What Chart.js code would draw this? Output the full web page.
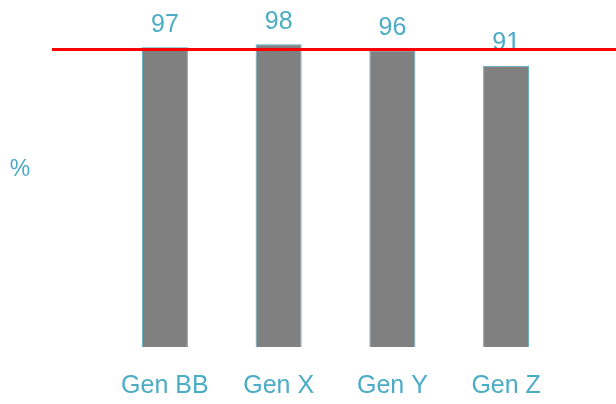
<!DOCTYPE html>
<html>
<head>
<meta charset="utf-8">
<script src="https://cdn.jsdelivr.net/npm/chart.js@4"></script>
<style>
  html, body { margin: 0; padding: 0; background: #fff; }
  #wrap { width: 616px; height: 404px; }
</style>
</head>
<body>
<div id="wrap"><canvas id="chart"></canvas></div>
<script>
const categories = ["Gen BB", "Gen X", "Gen Y", "Gen Z"];
const percentValues = [97, 98, 96, 91];
const targetValue = [96.3];
const axisTitle = "%";

const blue = "#4BACC6";
const font = "'Liberation Sans', Arial, sans-serif";

// value labels above bars, target line and the "%" title
const extras = {
    id: "extras",
    afterDatasetsDraw(chart) {
        const ctx = chart.ctx;
        const meta = chart.getDatasetMeta(0);
        ctx.save();
        ctx.fillStyle = blue;
        ctx.font = "25px " + font;
        ctx.textAlign = "center";
        ctx.textBaseline = "bottom";
        meta.data.forEach((bar, i) => {
            ctx.fillText(String(percentValues[i]), bar.x, bar.y - 10);
        });

        const y = chart.scales.y.getPixelForValue(targetValue[0]);
        ctx.strokeStyle = "#ff0000";
        ctx.lineWidth = 3;
        ctx.beginPath();
        ctx.moveTo(52, y);
        ctx.lineTo(chart.width, y);
        ctx.stroke();

        ctx.font = "23px " + font;
        ctx.textBaseline = "middle";
        ctx.fillText(axisTitle, 20, 170);
        ctx.restore();
    }
};

new Chart(document.getElementById("chart"), {
    type: "bar",
    data: {
        labels: categories,
        datasets: [{
            data: percentValues,
            backgroundColor: "#808080",
            borderColor: blue,
            borderWidth: 1,
            barPercentage: 0.405,
            categoryPercentage: 1
        }]
    },
    options: {
        responsive: true,
        maintainAspectRatio: false,
        animation: false,
        layout: {padding: {left: 108, right: 53, top: 38, bottom: 3}},
        plugins: {legend: {display: false}, tooltip: {enabled: false}},
        scales: {
            x: {
                grid: {display: false, drawTicks: false},
                border: {display: false},
                ticks: {color: blue, font: {size: 25, family: font}, padding: 24},
                afterFit(scale) { scale.height = 54; }
            },
            y: {
                display: false,
                min: 0,
                max: 100
            }
        }
    },
    plugins: [extras]
});
</script>
</body>
</html>
